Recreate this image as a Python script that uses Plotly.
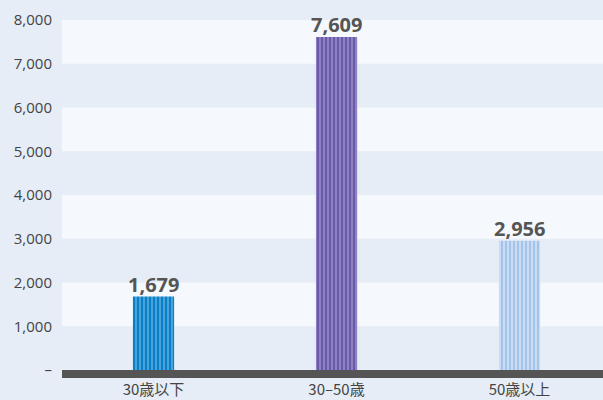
import plotly.graph_objects as go

# data
categories = ["30歳以下", "30–50歳", "50歳以上"]
values = [1679, 7609, 2956]
bar_colors = ["#0a7fc6", "#6a5aa8", "#a3c3e8"]
stripe_colors = ["#62b2e6", "#9d91d0", "#dbe8f8"]
y_ticks = [0, 1000, 2000, 3000, 4000, 5000, 6000, 7000, 8000]
y_ticktext = ["–", "1,000", "2,000", "3,000", "4,000", "5,000", "6,000", "7,000", "8,000"]

fig = go.Figure()
for cat, val, col, stripe in zip(categories, values, bar_colors, stripe_colors):
    fig.add_trace(go.Bar(
        x=[cat],
        y=[val],
        width=0.225,
        marker=dict(
            color=col,
            line=dict(width=0),
            pattern=dict(shape="|", fillmode="overlay", fgcolor=stripe, fgopacity=1,
                         size=4, solidity=0.35),
        ),
        hoverinfo="skip",
    ))
    # value label sitting right on top of the bar
    fig.add_annotation(x=cat, y=val, text=f"{val:,}", showarrow=False,
                       yanchor="bottom", yshift=-3,
                       font=dict(family="Open Sans", size=20, color="#555555", weight="bold"))

# alternating lighter bands
shapes = []
for lo in [1000, 3000, 5000, 7000]:
    shapes.append(dict(type="rect", xref="paper", yref="y", x0=0, x1=1, y0=lo, y1=lo + 1000,
                       fillcolor="rgba(255,255,255,0.6)", line=dict(width=0), layer="below"))
# dark base strip
shapes.append(dict(type="rect", xref="paper", yref="paper", x0=0, x1=1,
                   ysizemode="pixel", yanchor=0, y0=0, y1=-8,
                   fillcolor="#555555", line=dict(width=0), layer="above"))

fig.update_layout(
    width=603, height=400,
    margin=dict(l=62, r=0, t=20, b=30, autoexpand=False),
    paper_bgcolor="#e6edf7",
    plot_bgcolor="rgba(0,0,0,0)",
    showlegend=False,
    barmode="overlay",
    shapes=shapes,
    font=dict(family="Open Sans, Noto Sans CJK JP", size=15, color="#444444"),
    xaxis=dict(range=[-0.5, 2.456], showgrid=False, zeroline=False, showline=False,
               ticks="", ticklabelstandoff=9,
               tickfont=dict(family="Noto Sans CJK JP, Open Sans", size=15, color="#444444")),
    yaxis=dict(range=[0, 8000], tickvals=y_ticks, ticktext=y_ticktext, showgrid=False,
               zeroline=False, showline=False, ticks="outside", ticklen=6, tickcolor="rgba(0,0,0,0)",
               tickfont=dict(size=15, color="#444444")),
)

fig.write_html("out.html", config={"displayModeBar": False},
               post_script="document.body.style.margin='0';")
